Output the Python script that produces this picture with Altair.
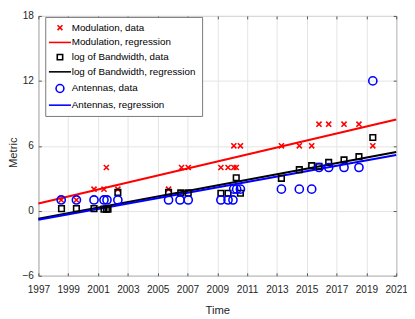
import altair as alt
import pandas as pd

# ---- data ----
mod_years = [1998.53, 1999.55, 2000.73, 2001.40, 2001.56, 2002.33, 2005.73, 2006.60,
             2007.05, 2009.24, 2009.72, 2010.11, 2010.27, 2010.11, 2010.55, 2013.30,
             2014.50, 2015.33, 2015.82, 2016.47, 2017.50, 2018.50, 2019.43]
mod_vals = [1, 1, 2, 2, 4, 2, 2, 4, 4, 4, 4, 4, 4, 6, 6, 6, 6, 6, 8, 8, 8, 8, 6]

bw_years = [1998.55, 1999.55, 2000.73, 2001.40, 2001.56, 2001.67, 2002.33, 2005.73,
            2006.55, 2007.05, 2009.24, 2009.72, 2010.27, 2010.55, 2013.30, 2014.50,
            2015.33, 2015.82, 2016.47, 2017.50, 2018.50, 2019.43]
bw_vals = [0.2, 0.2, 0.2, 0.15, 0.15, 0.15, 1.7, 1.7, 1.65, 1.65, 1.62, 1.62, 3.05,
           1.62, 3.0, 3.8, 4.17, 4.1, 4.47, 4.7, 5.0, 6.77]

ant_years = [1998.53, 1999.55, 2000.73, 2001.40, 2001.60, 2002.33, 2005.73, 2006.50,
             2007.05, 2009.24, 2009.72, 2010.05, 2010.10, 2010.30, 2010.55, 2013.30,
             2014.50, 2015.33, 2015.82, 2016.47, 2017.50, 2018.50, 2019.43]
ant_vals = [1, 1, 1, 1, 1, 1, 1, 1, 1, 1, 1, 1, 2, 2, 2, 2, 2, 2, 4, 4, 4, 4, 12]

reg_years = [1997, 2021]
mod_reg = [0.68, 8.44]
bw_reg = [-0.74, 5.44]
ant_reg = [-0.82, 5.15]

series_names = ["Modulation, data", "Modulation, regression",
                "log of Bandwidth, data", "log of Bandwidth, regression",
                "Antennas, data", "Antennas, regression"]
series_colors = ["#ff0000", "#ff0000", "#000000", "#000000", "#0000ff", "#0000ff"]

x_ticks = list(range(1997, 2022, 2))
y_ticks = [-6, 0, 6, 12, 18]

# ---- tables ----
pts = pd.concat([
    pd.DataFrame({"time": mod_years, "value": mod_vals, "series": series_names[0]}),
    pd.DataFrame({"time": bw_years, "value": bw_vals, "series": series_names[2]}),
    pd.DataFrame({"time": ant_years, "value": ant_vals, "series": series_names[4]}),
], ignore_index=True)
reg = pd.concat([
    pd.DataFrame({"time": reg_years, "value": mod_reg, "series": series_names[1]}),
    pd.DataFrame({"time": reg_years, "value": bw_reg, "series": series_names[3]}),
    pd.DataFrame({"time": reg_years, "value": ant_reg, "series": series_names[5]}),
], ignore_index=True)

X_PATH = "M-1,-1L1,1M-1,1L1,-1"
LINE_PATH = "M-4.5,0L4.5,0"
SQ_PATH = "M-1.1,-1.1L1.1,-1.1L1.1,1.1L-1.1,1.1Z"
CIRC_PATH = "M-1.6,0A1.6,1.6,0,1,0,1.6,0A1.6,1.6,0,1,0,-1.6,0Z"
series_shapes = [X_PATH, LINE_PATH, SQ_PATH, LINE_PATH, CIRC_PATH, LINE_PATH]

W, H = 365, 265
FONT = "Liberation Sans"
TXT = "#262626"

xscale = alt.Scale(domain=[1997, 2021], nice=False, zero=False)
yscale = alt.Scale(domain=[-6, 18], nice=False, zero=False)
cscale = alt.Scale(domain=series_names, range=series_colors)
sscale = alt.Scale(domain=series_names, range=series_shapes)

legend = alt.Legend(title=None, orient="none", legendX=7, legendY=1)

lines = alt.Chart(reg).mark_line(strokeWidth=2).encode(
    x=alt.X("time:Q", scale=xscale,
            axis=alt.Axis(values=x_ticks, format="d", title="Time", grid=True,
                          ticks=False, domain=False, labelPadding=9,
                          labelOverlap=False, labelFlush=False, titlePadding=10)),
    y=alt.Y("value:Q", scale=yscale,
            axis=alt.Axis(values=y_ticks, title="Metric", grid=True, ticks=False,
                          domain=False, labelPadding=5, labelFlush=False,
                          titleX=-20, titleY=139)),
    color=alt.Color("series:N", scale=cscale, legend=legend),
    detail="series:N",
)

points = alt.Chart(pts).mark_point(filled=False, size=27, strokeWidth=1.6, opacity=1).encode(
    x=alt.X("time:Q", scale=xscale,
            axis=alt.Axis(values=x_ticks, orient="top", offset=-H, labels=False,
                          title=None, grid=False, domain=False, ticks=True,
                          tickSize=3, tickColor="#555")),
    y=alt.Y("value:Q", scale=yscale,
            axis=alt.Axis(values=y_ticks, orient="right", offset=-W, labels=False,
                          title=None, grid=False, domain=False, ticks=True,
                          tickSize=3, tickColor="#555")),
    color=alt.Color("series:N", scale=cscale, legend=legend),
    shape=alt.Shape("series:N", scale=sscale, legend=legend),
)

ghost = alt.Chart(reg).mark_line(opacity=0).encode(
    x=alt.X("time:Q", scale=xscale,
            axis=alt.Axis(values=x_ticks, orient="bottom", offset=-H, labels=False,
                          title=None, grid=False, domain=False, ticks=True,
                          tickSize=3, tickColor="#555")),
    y=alt.Y("value:Q", scale=yscale,
            axis=alt.Axis(values=y_ticks, orient="left", offset=-W, labels=False,
                          title=None, grid=False, domain=False, ticks=True,
                          tickSize=3, tickColor="#555")),
    detail="series:N",
)

chart = alt.layer(lines, points, ghost).resolve_axis(
    x="independent", y="independent"
).properties(
    width=W, height=H,
    autosize=alt.AutoSizeParams(type="none"),
    padding={"left": 31, "top": 5, "right": 11, "bottom": 41},
).configure_view(
    stroke="#666666", strokeWidth=1
).configure_axis(
    labelFont=FONT, titleFont=FONT, labelFontSize=10.3, titleFontSize=11.5,
    labelColor=TXT, titleColor=TXT, titleFontWeight="normal",
    gridColor="#e3e3e3", gridWidth=1,
).configure_legend(
    labelFont=FONT, labelFontSize=10, labelColor="#000000",
    strokeColor="#777777", fillColor="#ffffff", padding=6,
    rowPadding=4, symbolStrokeWidth=1.6, symbolSize=25,
    symbolFillColor="transparent", symbolOffset=4, labelOffset=7, labelLimit=300,
)

chart.save("out.html", embed_options={"renderer": "svg", "actions": False})
